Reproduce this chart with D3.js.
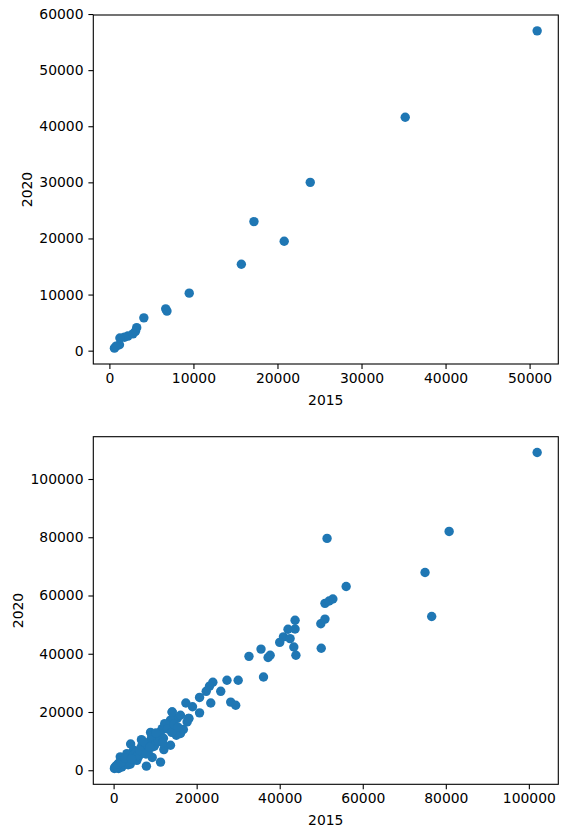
<!DOCTYPE html>
<html>
<head>
<meta charset="utf-8">
<script src="https://cdn.jsdelivr.net/npm/d3@7"></script>
<style>
  body { margin: 0; background: #fff; }
  svg { display: block; font-family: "DejaVu Sans", sans-serif; }
</style>
</head>
<body>
<svg id="chart"></svg>
<script>
// Top panel values (2015 vs 2020)
const topX = [50900, 35200, 23900, 17200, 20800, 15700, 9500, 6700, 6850, 4100,
  3250, 3100, 2800, 2200, 1800, 1250, 1200, 600, 800];
const topY = [57000, 41600, 30000, 23000, 19500, 15400, 10250, 7450, 7050, 5850,
  4100, 3450, 3000, 2600, 2400, 2250, 1050, 450, 800];

// Bottom panel values (2015 vs 2020)
const bottomX = [102000, 80800, 51400, 75000, 76600, 56000, 50900, 51900, 52800, 49900,
  50900, 43700, 42000, 43700, 40900, 42500, 40000, 43400, 43900, 50000,
  35500, 32600, 37200, 37700, 36100, 30000, 27300, 25800, 23900, 23100,
  22300, 20700, 23400, 28200, 29400, 17400, 19000, 20700, 14100, 15300,
  18100, 17700, 13700, 16800, 16100, 12500, 11300, 13700, 12100, 11300,
  7900, 9300, 4100, 8900, 11700, 12300, 14100, 16100, 18100, 15100,
  6700, 7600, 9300, 10500, 4800, 3200, 1600, 2400, 4000, 5600,
  800, 200, 1200, 2000, 500, 1500, 2500, 3000, 3500, 4500,
  5000, 5500, 6000, 6500, 7000, 7500, 8000, 8500, 9000, 9500,
  10000, 10500, 11000, 12000, 13000, 14000, 14500, 15500, 3800, 2000,
  1200, 600, 5800, 6800, 7200, 8300, 9800, 10800, 11800, 300,
  700, 1000, 1800, 2800, 4300, 6300, 7800, 8700, 9200, 10200];
const bottomY = [109100, 82000, 79600, 67900, 52800, 63100, 57300, 58100, 58800, 50300,
  51900, 51500, 48400, 48500, 45800, 45200, 43900, 42300, 39500, 41900,
  41600, 39100, 38700, 39500, 32000, 30900, 30900, 27100, 30200, 28900,
  27100, 25000, 23100, 23400, 22300, 23100, 21800, 19700, 20000, 17800,
  17800, 16600, 17200, 14000, 12600, 15500, 13200, 8600, 7100, 2800,
  1400, 4400, 9000, 13000, 14300, 16000, 20000, 18900, 17800, 12000,
  10500, 9200, 8000, 10300, 6900, 5700, 4600, 2900, 2100, 3400,
  1400, 600, 600, 1100, 900, 1800, 2200, 3500, 1900, 4800,
  5600, 6200, 4700, 7400, 6300, 8200, 7400, 9500, 10500, 11200,
  9000, 11800, 12400, 11000, 14200, 13000, 15800, 14800, 2800, 3200,
  2400, 1500, 5000, 8500, 9800, 6200, 8300, 10000, 9500, 1000,
  1300, 2000, 2600, 4100, 3900, 6800, 5600, 7900, 11900, 12800];

// Tick values
const topXTicks = [0, 10000, 20000, 30000, 40000, 50000];
const topYTicks = [0, 10000, 20000, 30000, 40000, 50000, 60000];
const bottomXTicks = [0, 20000, 40000, 60000, 80000, 100000];
const bottomYTicks = [0, 20000, 40000, 60000, 80000, 100000];
const xLabel = "2015";
const yLabel = "2020";

const width = 567;
const height = 838;
const svg = d3.select("#chart").attr("width", width).attr("height", height);

// matplotlib-style 5% padding around the data
function padded(values) {
  const [lo, hi] = d3.extent(values);
  const m = (hi - lo) * 0.05;
  return [lo - m, hi + m];
}

function drawPanel(box, xs, ys, xTicks, yTicks) {
  const x = d3.scaleLinear().domain(padded(xs)).range([box.left, box.left + box.width]);
  const y = d3.scaleLinear().domain(padded(ys)).range([box.top + box.height, box.top]);
  const fmt = d3.format("d");

  const g = svg.append("g");

  // points
  g.append("g")
    .selectAll("circle")
    .data(d3.range(xs.length))
    .enter()
    .append("circle")
    .attr("cx", (i) => x(xs[i]))
    .attr("cy", (i) => y(ys[i]))
    .attr("r", 4.7)
    .attr("fill", "#1f77b4");

  // axes
  const xAxis = g.append("g")
    .attr("transform", `translate(0,${box.top + box.height})`)
    .call(d3.axisBottom(x).tickValues(xTicks).tickFormat(fmt).tickSize(4.9).tickPadding(4.2).tickSizeOuter(0));
  const yAxis = g.append("g")
    .attr("transform", `translate(${box.left},0)`)
    .call(d3.axisLeft(y).tickValues(yTicks).tickFormat(fmt).tickSize(4.9).tickPadding(4.9).tickSizeOuter(0));

  [xAxis, yAxis].forEach((a) => {
    a.select(".domain").remove();
    a.selectAll("line").attr("stroke", "#000").attr("stroke-width", 1.1);
    a.selectAll("text")
      .attr("fill", "#000")
      .style("font-size", "13.9px")
      .style("font-family", "'DejaVu Sans', sans-serif");
  });

  // frame (spines)
  g.append("rect")
    .attr("x", box.left)
    .attr("y", box.top)
    .attr("width", box.width)
    .attr("height", box.height)
    .attr("fill", "none")
    .attr("stroke", "#000")
    .attr("stroke-width", 1.1);

  // axis titles
  g.append("text")
    .attr("x", box.left + box.width / 2)
    .attr("y", box.top + box.height + 41)
    .attr("text-anchor", "middle")
    .style("font-size", "13.9px")
    .text(xLabel);

  // place y title just left of the widest tick label
  let minLeft = Infinity;
  yAxis.selectAll("text").each(function () {
    const b = this.getBBox();
    minLeft = Math.min(minLeft, box.left - 4.9 - 4.9 - b.width);
  });
  const yx = minLeft - 7.5;
  g.append("text")
    .attr("transform", `translate(${yx},${box.top + box.height / 2}) rotate(-90)`)
    .attr("text-anchor", "middle")
    .style("font-size", "13.9px")
    .text(yLabel);
}

drawPanel({ left: 93.3, top: 15, width: 465, height: 349 }, topX, topY, topXTicks, topYTicks);
drawPanel({ left: 93.3, top: 436.7, width: 465, height: 347.6 }, bottomX, bottomY, bottomXTicks, bottomYTicks);
</script>
</body>
</html>
